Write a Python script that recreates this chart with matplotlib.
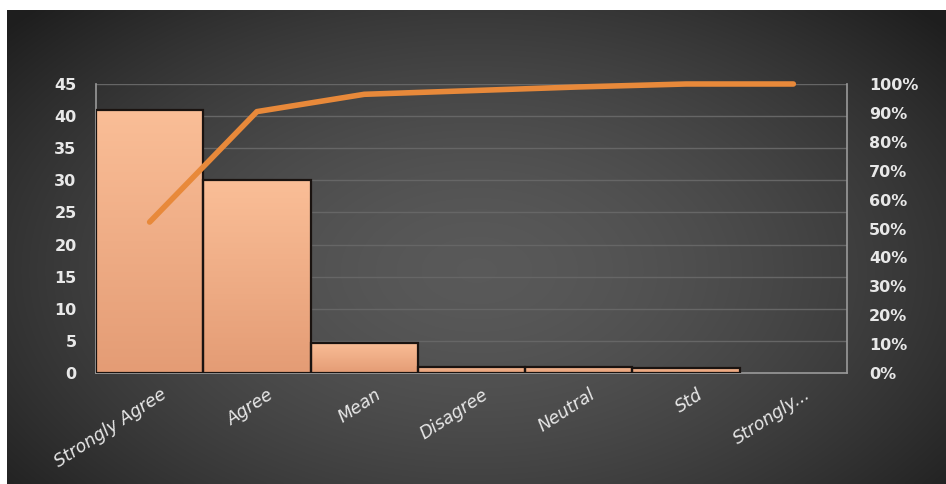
import numpy as np
import matplotlib
matplotlib.use("Agg")
import matplotlib.pyplot as plt
from matplotlib.patches import Rectangle
from matplotlib.ticker import FuncFormatter
import matplotlib.transforms as mtrans

categories = ["Strongly Agree", "Agree", "Mean", "Disagree", "Neutral", "Std", "Strongly..."]
counts = [41, 30, 4.7, 1.0, 1.0, 0.8, 0.0]
y_ticks = [0, 5, 10, 15, 20, 25, 30, 35, 40, 45]
pct_ticks = [0, 0.1, 0.2, 0.3, 0.4, 0.5, 0.6, 0.7, 0.8, 0.9, 1.0]

cum_pct = np.cumsum(counts) / np.sum(counts)

W, H = 946, 484
fig = plt.figure(figsize=(W / 100, H / 100), dpi=100)
fig.patch.set_facecolor("white")

# background gradient panel
bg = fig.add_axes([7 / W, 0, 1 - 7 / W, 1 - 10 / H], zorder=-10)
bg.set_axis_off()
yy, xx = np.mgrid[0:1:200j, 0:1:400j]
r = np.sqrt(((xx - 0.5) / 0.62) ** 2 + ((yy - 0.45) / 0.75) ** 2)
val = np.clip(0.35 - 0.21 * r ** 1.6, 0.12, 0.4)
img = np.dstack([val, val, val])
bg.imshow(img, aspect="auto", extent=[0, 1, 0, 1], origin="lower", interpolation="bicubic")

ax = fig.add_axes([96 / W, 111 / H, (847 - 96) / W, (373 - 84) / H])
ax.set_facecolor("none")
x = np.arange(len(categories))

# grid
for t in y_ticks[1:]:
    ax.axhline(t, color="#666666", lw=1.0, zorder=0)

# bars with gradient
grad = np.linspace(0, 1, 100).reshape(-1, 1)
top_col = np.array([0xFA, 0xBE, 0x97]) / 255
bot_col = np.array([0xE4, 0x9C, 0x75]) / 255
gimg = bot_col[None, None, :] * (1 - grad[:, :, None]) + top_col[None, None, :] * grad[:, :, None]
for xi, c in zip(x, counts):
    if c <= 0:
        continue
    rect = Rectangle((xi - 0.5, 0), 1.0, c, facecolor="none", edgecolor="#1a1310", lw=1.6, zorder=3)
    ax.add_patch(rect)
    im = ax.imshow(gimg, extent=[xi - 0.5, xi + 0.5, 0, c], origin="lower", aspect="auto", zorder=2)
    im.set_clip_path(rect)
ax.set_xlim(-0.5, len(categories) - 0.5)
ax.set_ylim(0, 45)
ax.set_aspect("auto")

ax.spines["top"].set_visible(False)
for s in ["left", "right", "bottom"]:
    ax.spines[s].set_color("#9a9a9a")
    ax.spines[s].set_linewidth(1.2)

ax.set_yticks(y_ticks)
ax.tick_params(axis="y", length=0, pad=14, labelcolor="#e8e8e8")
for lab in ax.get_yticklabels():
    lab.set_fontweight("bold")
    lab.set_fontsize(11.5)
    lab.set_family("DejaVu Sans")

ax.set_xticks(x)
ax.set_xticklabels(categories, rotation=33, ha="right", rotation_mode="anchor",
                   fontsize=12.5, color="#e8e8e8", fontstyle="italic",
                   family=["Liberation Sans Narrow", "DejaVu Sans"])
ax.tick_params(axis="x", length=0, pad=9)
offset = mtrans.ScaledTranslation(0.10, 0, fig.dpi_scale_trans)
for lab in ax.get_xticklabels():
    lab.set_transform(lab.get_transform() + offset)

ax2 = ax.twinx()
ax2.set_ylim(0, 1)
ax2.set_yticks(pct_ticks)
ax2.yaxis.set_major_formatter(FuncFormatter(lambda v, p: f"{v*100:.0f}%"))
ax2.tick_params(axis="y", length=0, pad=16, labelcolor="#e8e8e8")
for lab in ax2.get_yticklabels():
    lab.set_fontweight("bold")
    lab.set_fontsize(11.5)
    lab.set_family("DejaVu Sans")
for s in ax2.spines.values():
    s.set_visible(False)
ax2.plot(x, cum_pct, color="#E8893A", lw=4, solid_capstyle="round", solid_joinstyle="round", zorder=5, clip_on=False)

fig.savefig("out.png", dpi=100, facecolor=fig.get_facecolor())
